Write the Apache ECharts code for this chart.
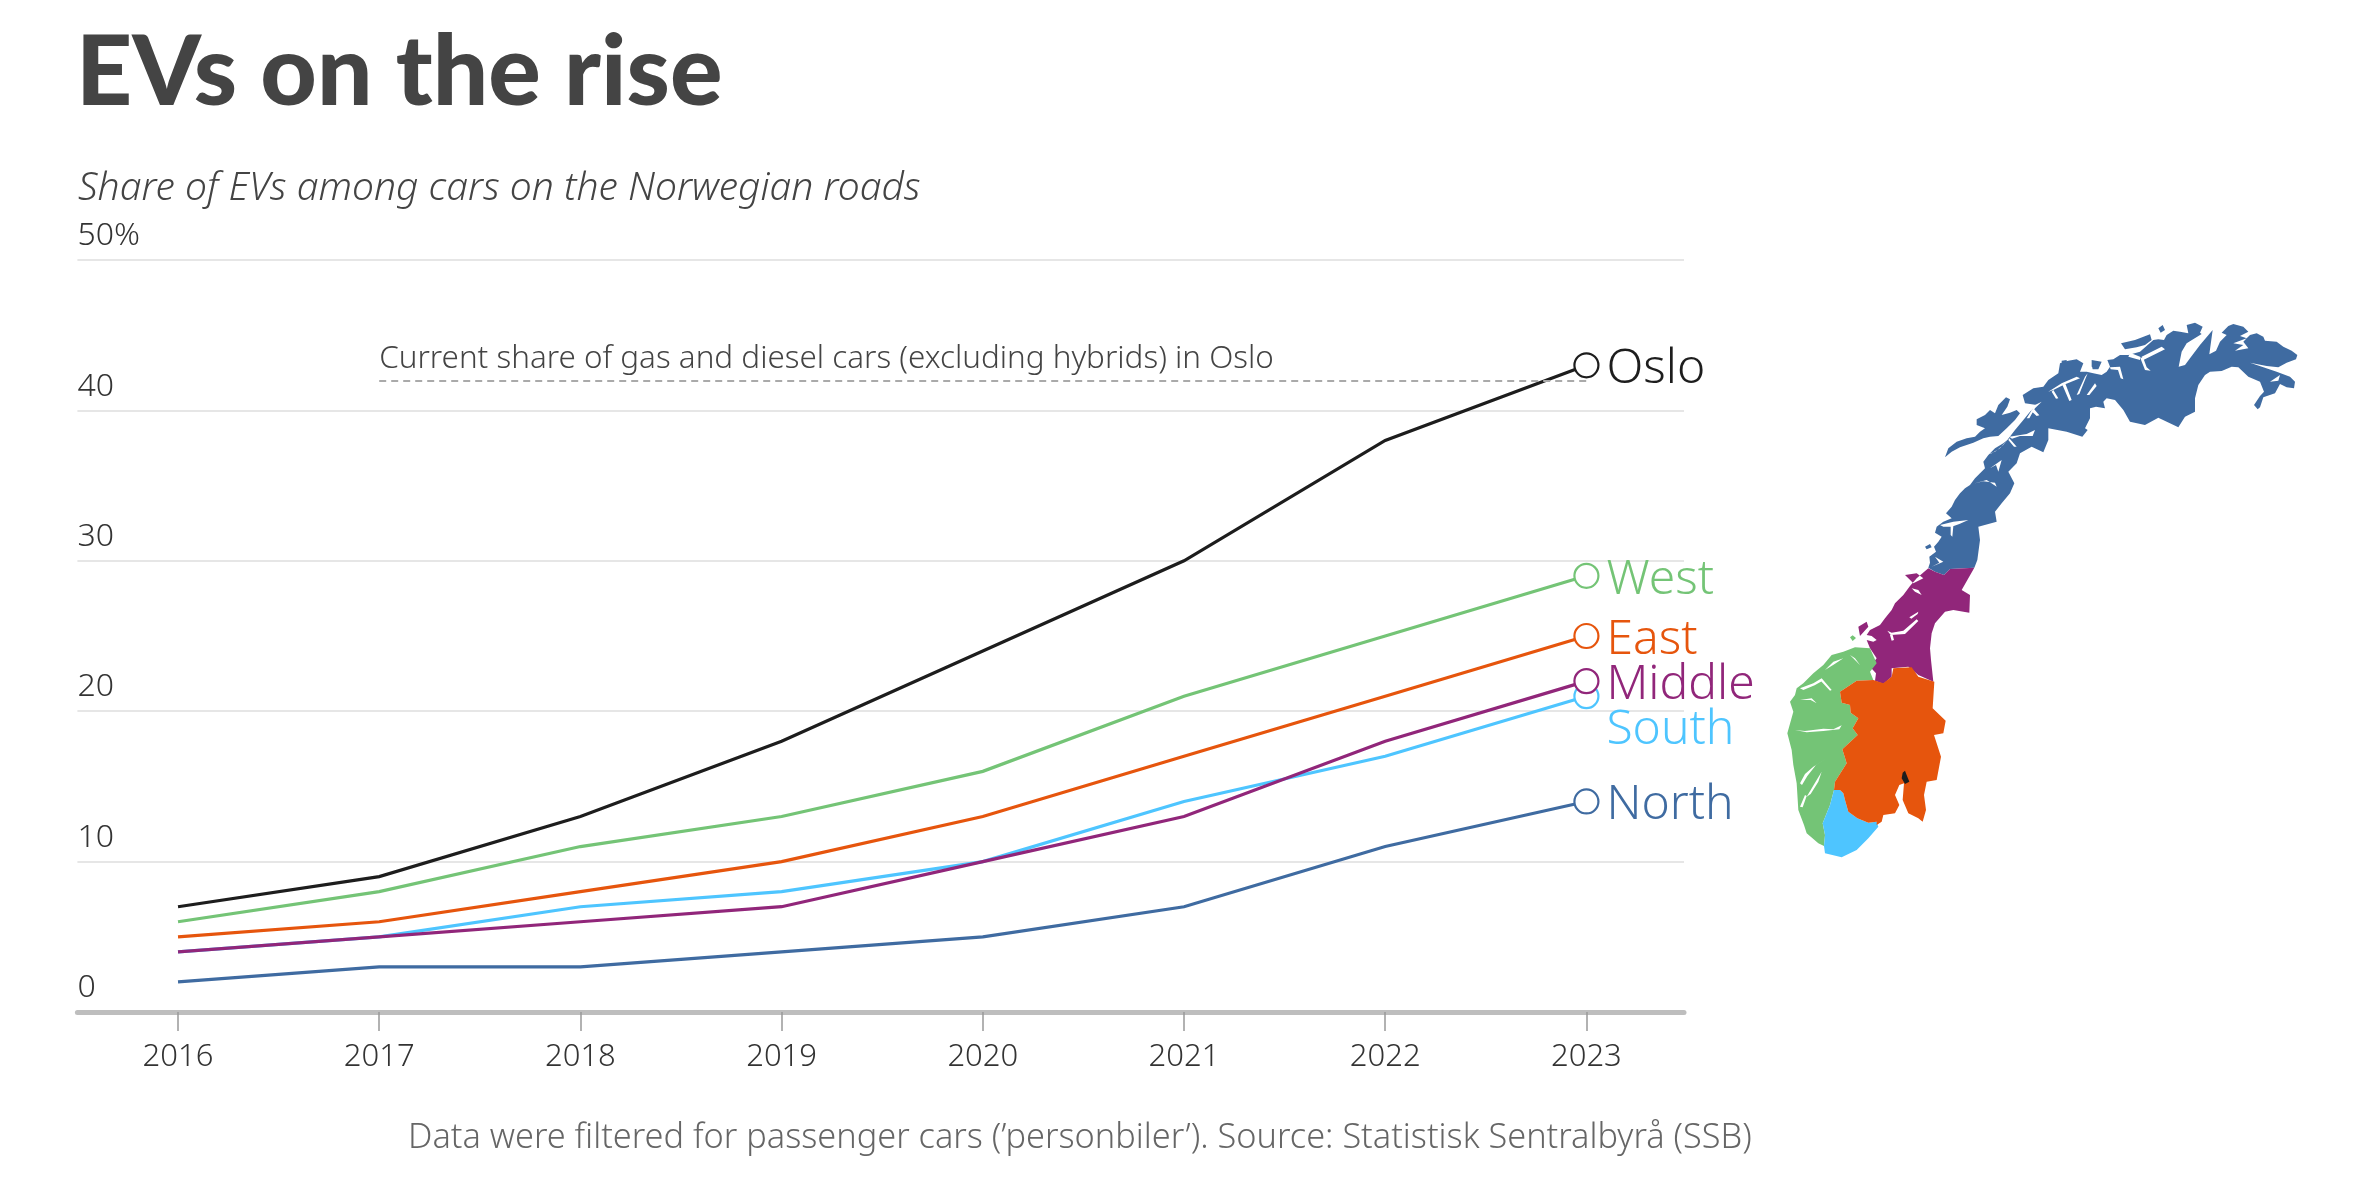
<!DOCTYPE html>
<html><head><meta charset="utf-8">
<style>html,body{margin:0;padding:0;background:#fff}#c{width:2361px;height:1181px}</style>
<script src="https://cdn.jsdelivr.net/npm/echarts@6/dist/echarts.min.js"></script>
</head><body><div id="c"></div>
<script>
const years = [2016,2017,2018,2019,2020,2021,2022,2023];
const oslo = [7,9,13,18,24,30,38,43];
const west = [6,8,11,13,16,21,25,29];
const east = [5,6,8,10,13,17,21,25];
const middle = [4,5,6,7,10,13,18,22];
const south = [4,5,7,8,10,14,17,21];
const north = [2,3,3,4,5,7,11,14];
const gasDieselOslo = 42;
const colors = {Oslo:'#1d1d1d',West:'#74c476',East:'#e6550d',Middle:'#91267a',South:'#4ec5ff',North:'#3f6ba1'};

// map outlines traced in four crops of the picture (each 3x, origin given)
const A=(pts)=>pts.map(p=>[2090+p[0]/3,310+p[1]/3]);
const B=(pts)=>pts.map(p=>[1920+p[0]/3,340+p[1]/3]);
const C=(pts)=>pts.map(p=>[1850+p[0]/3,560+p[1]/3]);
const D=(pts)=>pts.map(p=>[1780+p[0]/3,650+p[1]/3]);

const northMain = [...B([[163,683],[90,687],[72,705],[45,695],[25,683],[30,668],[28,650],[48,635],[42,620],[55,605],[65,590],[45,578],[50,560],[70,545],[95,535],[78,520],[95,500],[105,480],[120,460],[135,445],[150,435],[165,415],[180,400],[195,385],[190,365],[205,345],[225,325],[250,310],[262,300],[285,270],[310,240],[330,215],[350,195],[315,190],[308,165],[340,145],[370,140],[385,120],[415,100],[420,70],[445,62],[470,58],[490,70],[480,95],[500,95],[520,100]]),
 ...A([[35,195],[50,185],[60,170],[52,150],[70,148],[90,135],[115,135],[150,125],[190,90],[205,88],[222,90],[230,75],[250,62],[270,65],[295,70],[290,45],[315,38],[338,50],[330,68],[335,72],[290,100],[275,125],[266,170],[285,165],[300,145],[330,105],[368,60],[358,133],[378,122],[390,95],[410,75],[395,68],[415,48],[430,42],[460,50],[475,65],[450,78],[470,85],[480,75],[500,70],[520,80],[525,92],[560,95],[580,110],[605,122],[622,135],[618,148],[590,158],[565,172],[530,168],[480,158],[560,185],[600,200],[615,215],[612,235],[590,232],[570,222],[555,250],[520,262],[510,292],[503,298],[492,285],[510,258],[522,245],[510,215],[475,200],[445,172],[425,170],[395,183],[360,185],[345,195],[325,225],[315,265],[315,305],[285,320],[265,352],[205,323],[165,345],[120,335],[100,300],[75,270],[50,265],[40,275],[45,295],[18,290],[0,295]]),
 ...B([[510,235],[495,265],[503,270],[487,290],[440,275],[385,265],[385,300],[370,337],[335,320],[300,340],[290,370],[265,395],[283,430],[270,460],[245,490],[225,515],[230,545],[175,560],[180,600],[172,660]])];
const northLofoten = B([[75,352],[85,325],[110,305],[140,295],[165,290],[180,275],[195,265],[170,255],[170,238],[195,225],[210,210],[225,220],[235,195],[258,172],[270,178],[262,200],[245,225],[270,218],[290,210],[300,220],[285,240],[260,265],[235,288],[210,290],[190,295],[160,308],[120,322],[95,335]]);
const northIsles = [
 B([[15,620],[30,612],[35,622],[20,628]]),
 B([[515,60],[545,65],[535,88],[515,80]]),
 B([[425,62],[440,60],[440,75],[425,75]]),
 A([[5,165],[15,152],[30,160],[25,178],[8,178]]),
 A([[93,100],[135,90],[180,73],[185,90],[165,105],[140,112],[105,118]]),
 A([[205,55],[218,45],[225,60],[212,68]])
];
const middleMain = C([[373,23],[300,27],[282,45],[255,35],[235,25],[200,55],[180,78],[160,105],[135,130],[125,150],[105,175],[90,195],[60,210],[50,225],[65,228],[80,240],[70,245],[50,240],[60,265],[80,295],[60,320],[78,340],[75,362],[100,372],[125,350],[125,325],[175,320],[205,345],[250,365],[243,300],[240,265],[245,220],[255,190],[285,155],[310,150],[358,158],[360,105],[335,90]]);
const middleIsles = [
 C([[165,45],[200,40],[220,55],[190,70],[175,55]]),
 C([[25,200],[50,185],[55,200],[30,228]])
];
const westMain = D([[225,-8],[190,5],[155,15],[130,45],[100,70],[70,100],[50,115],[45,135],[30,155],[40,185],[22,250],[35,300],[40,345],[50,400],[55,480],[72,525],[80,550],[115,580],[132,588],[135,555],[128,520],[150,465],[162,420],[165,395],[200,340],[187,298],[233,255],[218,235],[235,205],[212,188],[210,165],[185,158],[180,125],[230,92],[280,90],[270,65],[290,40],[270,-5]]);
const westIsle = C([[0,232],[8,226],[18,234],[8,243]]);
const southMain = D([[162,420],[150,465],[128,520],[135,555],[132,588],[135,610],[185,622],[230,600],[265,565],[295,530],[290,515],[265,518],[232,505],[205,485],[195,450],[190,430],[180,420]]);
const eastMain = D([[180,125],[230,92],[280,90],[310,100],[335,80],[340,55],[395,52],[415,80],[463,95],[458,175],[497,212],[490,250],[462,255],[483,320],[470,390],[440,395],[432,435],[438,480],[428,515],[415,505],[385,490],[368,450],[372,400],[358,405],[345,435],[358,465],[345,490],[310,495],[305,515],[290,525],[290,515],[265,518],[232,505],[205,485],[195,450],[190,430],[180,420],[162,420],[165,395],[200,340],[187,298],[233,255],[218,235],[235,205],[212,188],[210,165],[185,158]]);
const osloMain = D([[368,368],[375,362],[382,380],[388,395],[375,402],[365,385]]);
const fjords = [
 ...[
 [[385,155],[425,130],[470,110],[480,115],[430,135],[400,150]],
 [[425,130],[435,128],[455,180],[448,183]],
 [[400,150],[415,175],[408,176],[395,155]],
 [[470,165],[495,110],[503,100],[478,162]],
 [[500,165],[525,130],[530,138],[508,165]],
 [[320,235],[345,195],[365,185],[345,205],[328,235]],
 [[340,205],[358,226],[350,228],[333,212]],
 [[268,290],[320,282],[345,270],[338,288],[300,288],[276,296]],
 [[268,295],[290,320],[282,320],[265,300]],
 [[195,345],[225,335],[250,315],[262,300],[240,325],[215,340]],
 [[210,385],[245,360],[235,395],[228,375]],
 [[165,430],[200,420],[230,440],[225,428],[190,424]],
 [[60,555],[100,545],[145,540],[118,552],[95,560],[70,560]],
 [[92,558],[100,558],[97,590],[92,585]],
 [[35,680],[70,665],[45,650],[58,668]]
 ].map(B),
 ...[
 [[115,140],[150,150],[150,140],[120,128]],
 [[150,142],[165,180],[182,182],[170,172],[160,145]],
 [[160,150],[225,118],[215,110],[155,140]],
 [[60,172],[90,170],[100,208],[92,205],[84,180],[62,178]],
 [[430,100],[470,85],[460,95],[475,115],[435,122],[460,105]],
 [[540,215],[570,195],[565,212]]
 ].map(A),
 ...[
 [[112,212],[122,225],[165,222],[205,183],[200,178],[160,212],[125,218]],
 [[120,225],[125,242],[132,240],[128,225]],
 [[178,172],[205,155],[203,162],[184,176]],
 [[185,85],[205,90],[215,105],[195,95]]
 ].map(C),
 ...[
 [[45,240],[75,243],[130,236],[160,238],[185,226],[178,238],[130,243],[80,247]],
 [[60,115],[100,100],[125,85],[128,92],[104,106],[70,120]],
 [[125,85],[155,120],[150,122],[122,92]],
 [[60,150],[95,145],[110,160],[92,150]],
 [[60,400],[75,372],[100,350],[140,325],[108,345],[82,378],[66,405]],
 [[80,440],[110,390],[125,365],[115,395],[92,432]],
 [[60,470],[75,435],[80,438],[68,472]],
 [[135,60],[160,35],[190,25],[164,42]],
 [[210,15],[240,45],[225,25]]
 ].map(D)
];
const close = r => [...r, r[0]];
const feature = (name, rings) => ({type:'Feature',properties:{name},geometry:{type:'MultiPolygon',coordinates:rings.map(r=>[close(r)])}});
const features = [
 feature('North',[northMain,northLofoten,...northIsles]),
 feature('Middle',[middleMain,...middleIsles]),
 feature('West',[westMain,westIsle]),
 feature('South',[southMain]),
 feature('East',[eastMain]),
 feature('Water',fjords),
 feature('Oslo',[osloMain])
];
echarts.registerMap('norway',{type:'FeatureCollection',features});
let xs=[],ys=[];
features.forEach(f=>f.geometry.coordinates.forEach(poly=>poly[0].forEach(p=>{xs.push(p[0]);ys.push(p[1]);})));
const bx=Math.min(...xs),by=Math.min(...ys),bw=Math.max(...xs)-bx,bh=Math.max(...ys)-by;

const FONT='"Noto Sans", sans-serif';
const pairs=vals=>vals.map((v,i)=>[years[i],v]);
const lineSeries=(name,vals,extra)=>Object.assign({
  name,type:'line',data:pairs(vals),smooth:false,showSymbol:true,showAllSymbol:true,
  symbol:(v,p)=>p.dataIndex===vals.length-1?'circle':'none',symbolSize:24,
  lineStyle:{color:colors[name],width:3.2,cap:'butt',join:'miter'},
  itemStyle:{color:'#fff',borderColor:colors[name],borderWidth:2.2},
  endLabel:Object.assign({show:true,formatter:'{a}',color:colors[name],fontFamily:FONT,fontWeight:300,fontSize:48,distance:20,align:'left',verticalAlign:'middle',offset:[0,4]},(extra&&extra.endLabel)||{}),
  emphasis:{disabled:true},z:3
},extra&&extra.series);

const chart=echarts.init(document.getElementById('c'),null,{renderer:'canvas',width:2361,height:1181});
chart.setOption({
  animation:false,backgroundColor:'#fff',
  title:[
   {text:'EVs on the rise',left:76,top:24,padding:0,textStyle:{fontFamily:'Lato, sans-serif',fontWeight:900,fontSize:98,color:'#444444'}},
   {text:'Share of EVs among cars on the Norwegian roads',left:78,top:169,padding:0,textStyle:{fontFamily:FONT,fontStyle:'italic',fontWeight:300,fontSize:39,color:'#444444'}},
   {text:'Data were filtered for passenger cars (’personbiler’). Source: Statistisk Sentralbyrå (SSB)',left:408,top:1121,padding:0,textStyle:{fontFamily:FONT,fontWeight:300,fontSize:34.3,color:'#666666'}}
  ],
  grid:{left:77.4,width:1606.6,top:260,height:752,containLabel:false},
  xAxis:{type:'value',min:2015.5,max:2023.485,
    axisLine:{onZero:false,lineStyle:{color:'#bebebe',width:5}},
    axisTick:{show:true,customValues:years,length:19,lineStyle:{color:'#999',width:1.5}},
    axisLabel:{customValues:years,formatter:v=>String(v),fontFamily:FONT,fontWeight:300,fontSize:31,color:'#333',margin:30},splitLine:{show:false}},
  yAxis:{type:'value',min:0,max:50,interval:10,
    axisLine:{show:false},axisTick:{show:false},
    splitLine:{lineStyle:{color:'#e6e6e6',width:2}},
    axisLabel:{inside:true,margin:0,align:'left',verticalAlign:'bottom',padding:[0,0,8,0],fontFamily:FONT,fontWeight:300,fontSize:32,color:'#333',formatter:v=>v===50?'50%':String(v)}},
  geo:{map:'norway',projection:{project:p=>p,unproject:p=>p},left:bx,top:by,width:bw,height:bh,roam:false,silent:true,label:{show:false},
    itemStyle:{borderWidth:0,areaColor:'#fff'},
    regions:[...Object.keys(colors).map(n=>({name:n,itemStyle:{areaColor:colors[n],borderWidth:0}})),{name:'Water',itemStyle:{areaColor:'#fff',borderWidth:0}}]},
  series:[
    lineSeries('North',north),
    lineSeries('South',south,{endLabel:{offset:[0,34]}}),
    lineSeries('Middle',middle),
    lineSeries('East',east),
    lineSeries('West',west),
    lineSeries('Oslo',oslo,{series:{markLine:{silent:true,symbol:'none',
      lineStyle:{color:'#aaaaaa',type:[7,5],width:1.8},
      label:{show:true,position:'insideStartTop',distance:[0,6],formatter:'Current share of gas and diesel cars (excluding hybrids) in Oslo',fontFamily:FONT,fontWeight:300,fontSize:31.4,color:'#444'},
      data:[[{xAxis:2017,yAxis:gasDieselOslo},{xAxis:2023,yAxis:gasDieselOslo}]]}}})
  ]
});
</script></body></html>
